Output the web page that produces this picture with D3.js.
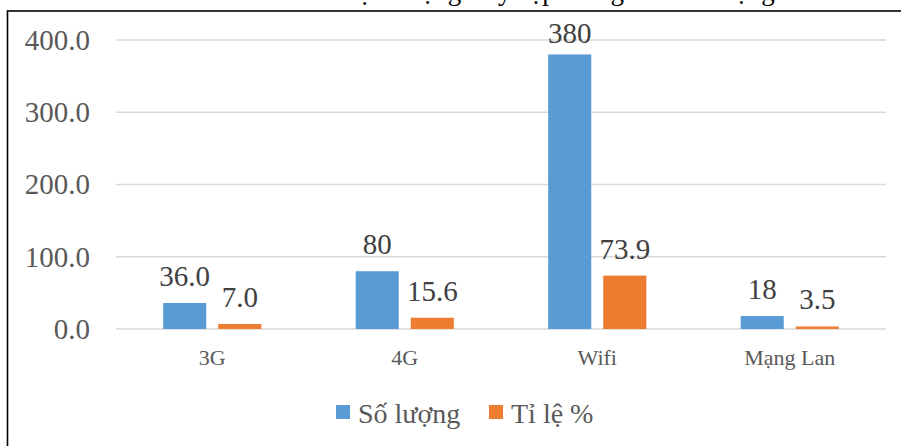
<!DOCTYPE html>
<html>
<head>
<meta charset="utf-8">
<script src="https://cdn.jsdelivr.net/npm/d3@7"></script>
<style>
  body { margin: 0; background: #fff; }
  svg text { font-family: "Liberation Serif", "Times New Roman", Times, serif; }
</style>
</head>
<body>
<svg id="chart" width="901" height="446"></svg>
<script>
// data
const categories = ["3G", "4G", "Wifi", "Mạng Lan"];
const seriesNames = ["Số lượng", "Tỉ lệ %"];
const soLuong = [36, 80, 380, 18];
const tiLe = [7.0, 15.6, 73.9, 3.5];
const soLuongLabels = ["36.0", "80", "380", "18"];
const tiLeLabels = ["7.0", "15.6", "73.9", "3.5"];
const yTicks = [0, 100, 200, 300, 400];
const colors = ["#5b9bd5", "#ed7d31"];

const serif = "'Liberation Serif', 'Times New Roman', Times, serif";
const svg = d3.select("#chart");

// title sits above the crop, only its descenders peek in at the top
svg.append("text")
    .attr("x", 480).attr("y", 0)
    .attr("text-anchor", "middle")
    .style("font-family", serif)
    .attr("font-size", 27)
    .attr("fill", "#000")
    .text("Biểu đồ: Thiết bị sử dụng truy cập thông tin trên mạng");

// frame
svg.append("rect")
    .attr("x", 7.5).attr("y", 11)
    .attr("width", 920).attr("height", 460)
    .attr("fill", "none")
    .attr("stroke", "#000")
    .attr("stroke-width", 1.6);

const x0 = d3.scaleBand().domain(categories).range([116, 886])
    .paddingInner(0.49).paddingOuter(0.245);
const x1 = d3.scaleBand().domain([0, 1]).range([0, x0.bandwidth()])
    .paddingInner(0.218);
const y = d3.scaleLinear().domain([0, 400]).range([329, 40]);

// gridlines
svg.append("g")
    .selectAll("line")
    .data(yTicks)
    .join("line")
    .attr("x1", 116).attr("x2", 886)
    .attr("y1", d => y(d)).attr("y2", d => y(d))
    .attr("stroke", "#d9d9d9")
    .attr("stroke-width", 1.5);

// y axis labels
const yAxis = svg.append("g")
    .attr("transform", "translate(116,0)")
    .call(d3.axisLeft(y).tickValues(yTicks).tickFormat(d3.format(".1f")).tickSize(0).tickPadding(26));
yAxis.select(".domain").remove();
yAxis.selectAll("text")
    .style("font-family", serif)
    .attr("font-size", 29)
    .attr("fill", "#595959");

// x axis labels
const xAxis = svg.append("g")
    .attr("transform", "translate(0,329)")
    .call(d3.axisBottom(x0).tickSize(0).tickPadding(20));
xAxis.select(".domain").remove();
xAxis.selectAll("text")
    .style("font-family", serif)
    .attr("font-size", 22)
    .attr("fill", "#595959");

const rows = categories.map((c, i) => ({
    cat: c,
    vals: [soLuong[i], tiLe[i]],
    labels: [soLuongLabels[i], tiLeLabels[i]]
}));

const groups = svg.append("g")
    .selectAll("g")
    .data(rows)
    .join("g")
    .attr("transform", d => "translate(" + x0(d.cat) + ",0)");

groups.selectAll("rect")
    .data(d => d.vals.map((v, k) => ({ v, k })))
    .join("rect")
    .attr("x", d => x1(d.k))
    .attr("width", x1.bandwidth())
    .attr("y", d => y(d.v))
    .attr("height", d => y(0) - y(d.v))
    .attr("fill", d => colors[d.k]);

// value labels, Excel pushes the tallest one down inside the plot area
groups.selectAll("text")
    .data(d => d.vals.map((v, k) => ({ v, k, label: d.labels[k] })))
    .join("text")
    .attr("x", d => x1(d.k) + x1.bandwidth() / 2)
    .attr("y", d => Math.max(y(d.v) - 17, 43))
    .attr("text-anchor", "middle")
    .style("font-family", serif)
    .attr("font-size", 29)
    .attr("fill", "#404040")
    .text(d => d.label);

// legend
const legend = svg.append("g")
    .selectAll("g")
    .data(seriesNames)
    .join("g")
    .attr("transform", (d, i) => "translate(" + [336, 489][i] + ",405)");
legend.append("rect")
    .attr("width", 14).attr("height", 14)
    .attr("fill", (d, i) => colors[i]);
legend.append("text")
    .attr("x", 22).attr("y", 18)
    .style("font-family", serif)
    .attr("font-size", 28)
    .attr("fill", "#595959")
    .text(d => d);
</script>
</body>
</html>
